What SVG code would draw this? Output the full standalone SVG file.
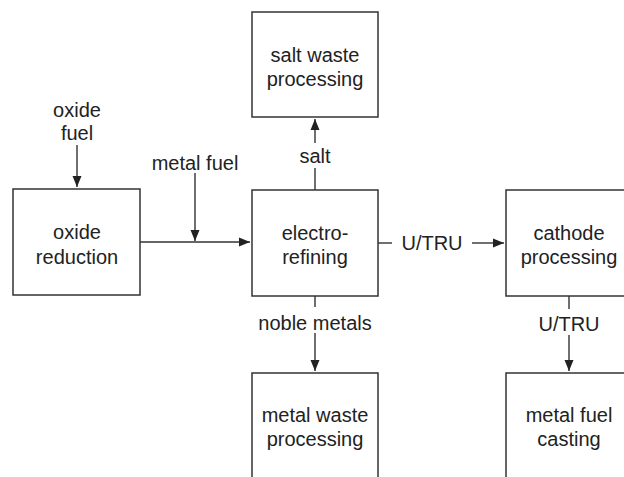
<svg xmlns="http://www.w3.org/2000/svg" width="624" height="477" viewBox="0 0 624 477">
<defs>
<marker id="arr" markerUnits="userSpaceOnUse" markerWidth="12" markerHeight="10" refX="11" refY="5" orient="auto">
<path d="M0,0.5 L11,5 L0,9.5 z" fill="#222"/>
</marker>
<style>
.box{fill:#fff;stroke:#333;stroke-width:1.5}
.t{font-family:"Liberation Sans",Arial,Helvetica,sans-serif;font-size:20px;fill:#222;text-anchor:middle}
.c{fill:none;stroke:#333;stroke-width:1.4}
</style>
</defs>
<rect width="624" height="477" fill="#fff"/>
<g id="connectors">
<line class="c" x1="77" y1="145" x2="77" y2="187" marker-end="url(#arr)"/>
<line class="c" x1="140" y1="242" x2="250" y2="242" marker-end="url(#arr)"/>
<line class="c" x1="195" y1="173" x2="195" y2="241" marker-end="url(#arr)"/>
<line class="c" x1="315" y1="190" x2="315" y2="168"/>
<line class="c" x1="315" y1="143" x2="315" y2="119" marker-end="url(#arr)"/>
<line class="c" x1="378" y1="243" x2="392" y2="243"/>
<line class="c" x1="472" y1="243" x2="504" y2="243" marker-end="url(#arr)"/>
<line class="c" x1="315" y1="296" x2="315" y2="307"/>
<line class="c" x1="315" y1="333" x2="315" y2="371" marker-end="url(#arr)"/>
<line class="c" x1="569" y1="296" x2="569" y2="309"/>
<line class="c" x1="569" y1="335" x2="569" y2="371" marker-end="url(#arr)"/>
<text class="t" x="77" y="117">oxide</text>
<text class="t" x="77" y="140">fuel</text>
<text class="t" x="195" y="170">metal fuel</text>
<text class="t" x="315" y="163">salt</text>
<text class="t" x="432" y="250">U/TRU</text>
<text class="t" x="315" y="330">noble metals</text>
<text class="t" x="569" y="331">U/TRU</text>
</g>
<g id="oxide-reduction">
<rect class="box" x="13" y="189" width="127" height="106"/>
<text class="t" x="77" y="239">oxide</text>
<text class="t" x="77" y="264">reduction</text>
</g>
<g id="electro-refining">
<rect class="box" x="252" y="190" width="126" height="106"/>
<text class="t" x="315" y="240">electro-</text>
<text class="t" x="315" y="264">refining</text>
</g>
<g id="salt-waste">
<rect class="box" x="252" y="12" width="126" height="105"/>
<text class="t" x="315" y="62">salt waste</text>
<text class="t" x="315" y="86">processing</text>
</g>
<g id="cathode-processing">
<rect class="box" x="506" y="190" width="126" height="106"/>
<text class="t" x="569" y="240">cathode</text>
<text class="t" x="569" y="264">processing</text>
</g>
<g id="metal-waste">
<rect class="box" x="252" y="373" width="126" height="110"/>
<text class="t" x="315" y="422">metal waste</text>
<text class="t" x="315" y="446">processing</text>
</g>
<g id="metal-fuel-casting">
<rect class="box" x="506" y="373" width="126" height="110"/>
<text class="t" x="569" y="422">metal fuel</text>
<text class="t" x="569" y="446">casting</text>
</g>
</svg>
